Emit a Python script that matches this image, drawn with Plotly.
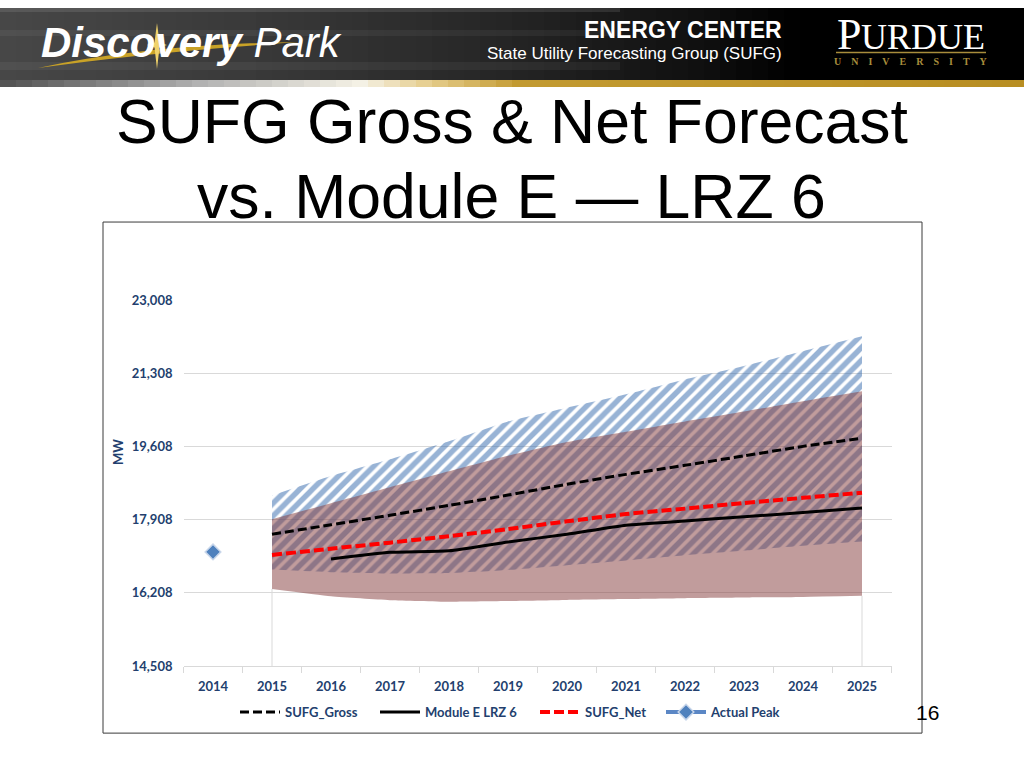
import plotly.graph_objects as go

# ---------------- data ----------------
years = [2014, 2015, 2016, 2017, 2018, 2019, 2020, 2021, 2022, 2023, 2024, 2025]
band_years = [2015, 2016, 2017, 2018, 2019, 2020, 2021, 2022, 2023, 2024, 2025]
gross_high = [18470, 18920, 19310, 19730, 20190, 20510, 20820, 21165, 21475, 21820, 22165]
gross_low = [16750, 16690, 16660, 16670, 16740, 16850, 16960, 17080, 17190, 17300, 17400]
net_high = [17920, 18290, 18660, 19030, 19390, 19710, 19950, 20190, 20420, 20660, 20890]
net_low = [16300, 16130, 16040, 16005, 16020, 16045, 16065, 16085, 16100, 16115, 16140]
sufg_gross = [17570, 17790, 18010, 18240, 18480, 18730, 18960, 19170, 19390, 19610, 19800]
sufg_net = [17090, 17235, 17375, 17525, 17690, 17870, 18040, 18165, 18295, 18415, 18535]
module_years = [2016, 2017, 2018, 2019, 2020, 2021, 2022, 2023, 2024, 2025]
module_e = [16995, 17150, 17185, 17390, 17570, 17780, 17880, 17975, 18075, 18180]
peak_years = [2014]
actual_peak = [17160]
y_min, y_max, y_step = 14508, 23008, 1700

W, H = 1024, 768
OY, SY = 8, 0.979     # observed vertical placement of the page in the photo
NAVY = "#233f6e"
GRID = "#d9d9d9"


def px(x):
    return x / W


def py(y):
    return 1 - ((y - OY) / SY) / H


fig = go.Figure()

# light edge lines under the net band at first/last forecast year
fig.add_trace(go.Scatter(
    x=[band_years[0], band_years[0], None, band_years[-1], band_years[-1]],
    y=[y_min, net_low[0], None, y_min, net_low[-1]],
    mode="lines", line=dict(color=GRID, width=1),
    showlegend=False, hoverinfo="skip"))

# gross range (hatched)
fig.add_trace(go.Scatter(
    x=band_years, y=gross_low, mode="lines",
    line=dict(width=0, shape="spline", smoothing=0.5),
    showlegend=False, hoverinfo="skip"))
fig.add_trace(go.Scatter(
    x=band_years, y=gross_high, mode="lines",
    line=dict(width=0, shape="spline", smoothing=0.5),
    fill="tonexty", fillcolor="rgba(0,0,0,0)",
    fillpattern=dict(shape="/", fgcolor="#3268ab", bgcolor="rgba(255,255,255,0)",
                     size=9, solidity=0.6),
    showlegend=False, hoverinfo="skip"))

# net range (translucent brown)
fig.add_trace(go.Scatter(
    x=band_years, y=net_low, mode="lines",
    line=dict(width=0, shape="spline", smoothing=0.5),
    showlegend=False, hoverinfo="skip"))
fig.add_trace(go.Scatter(
    x=band_years, y=net_high, mode="lines",
    line=dict(width=0, shape="spline", smoothing=0.5),
    fill="tonexty", fillcolor="rgba(132,58,58,0.5)",
    showlegend=False, hoverinfo="skip"))

# lines
fig.add_trace(go.Scatter(
    x=band_years, y=sufg_gross, mode="lines", name="SUFG_Gross", legend="legend",
    line=dict(color="black", width=3, dash="9px,4px", shape="spline", smoothing=0.5)))
fig.add_trace(go.Scatter(
    x=module_years, y=module_e, mode="lines", name="Module E LRZ 6", legend="legend2",
    line=dict(color="black", width=3, shape="spline", smoothing=0.5)))
fig.add_trace(go.Scatter(
    x=band_years, y=sufg_net, mode="lines", name="SUFG_Net", legend="legend3",
    line=dict(color="#ff0000", width=4, dash="10px,4px", shape="spline", smoothing=0.5)))
fig.add_trace(go.Scatter(
    x=peak_years, y=actual_peak, mode="lines+markers", name="Actual Peak", legend="legend4",
    line=dict(color="#5b87c5", width=4),
    marker=dict(symbol="diamond", size=12, color="#4f81bd",
                line=dict(color="#c8d6ea", width=1.5))))

shapes = []

# header background gradient
hdr_stops = [(0, (72, 72, 72)), (250, (58, 58, 58)), (500, (38, 38, 38)),
             (700, (16, 16, 16)), (800, (0, 0, 0)), (1024, (0, 0, 0))]
bar_stops = [(0, (80, 80, 80)), (200, (178, 178, 178)), (360, (245, 242, 230)),
             (430, (230, 205, 140)), (520, (195, 155, 50)), (1024, (184, 142, 34))]


def interp(stops, x):
    for (x0, c0), (x1, c1) in zip(stops[:-1], stops[1:]):
        if x0 <= x <= x1:
            t = (x - x0) / (x1 - x0) if x1 > x0 else 0
            return "rgb(%d,%d,%d)" % tuple(int(a + (b - a) * t) for a, b in zip(c0, c1))
    return "rgb(%d,%d,%d)" % stops[-1][1]


N = 64
for i in range(N):
    x0 = i * W / N
    x1 = (i + 1) * W / N + 0.6
    xm = (x0 + x1) / 2
    shapes.append(dict(type="rect", xref="paper", yref="paper",
                       x0=px(x0), x1=px(x1), y0=py(80), y1=1,
                       fillcolor=interp(hdr_stops, xm), line=dict(width=0), layer="below"))
    shapes.append(dict(type="rect", xref="paper", yref="paper",
                       x0=px(x0), x1=px(x1), y0=py(87), y1=py(80),
                       fillcolor=interp(bar_stops, xm), line=dict(width=0), layer="below"))
# subtle streaks in header
for (ya, yb, op) in [(8, 12, 0.10), (30, 36, 0.05), (62, 70, 0.05)]:
    shapes.append(dict(type="rect", xref="paper", yref="paper",
                       x0=0, x1=px(620), y0=py(yb), y1=py(ya),
                       fillcolor="rgba(255,255,255,%.2f)" % op, line=dict(width=0), layer="below"))


def P(x, y):
    return "%.5f,%.5f" % (px(x), py(y))


# swoosh + star of logo
swoosh = ("M " + P(38, 68) + " Q " + P(150, 44) + " " + P(300, 42) +
          " Q " + P(150, 52) + " " + P(38, 68) + " Z")
shapes.append(dict(type="path", xref="paper", yref="paper", path=swoosh,
                   fillcolor="#c9a227", line=dict(width=0), layer="below"))
sx, sy = 157, 45
star = ("M " + P(sx, sy - 22) + " L " + P(sx + 2.5, sy - 2.5) + " L " + P(sx + 10, sy) +
        " L " + P(sx + 2.5, sy + 2.5) + " L " + P(sx, sy + 24) + " L " + P(sx - 2.5, sy + 2.5) +
        " L " + P(sx - 10, sy) + " L " + P(sx - 2.5, sy - 2.5) + " Z")
shapes.append(dict(type="path", xref="paper", yref="paper", path=star,
                   fillcolor="#f0d26a", line=dict(width=0), layer="above"))

# Purdue gold rule
shapes.append(dict(type="line", xref="paper", yref="paper",
                   x0=px(836), x1=px(986), y0=py(52.5), y1=py(52.5),
                   line=dict(color="#a88d3c", width=1.5), layer="below"))

# chart box
shapes.append(dict(type="rect", xref="paper", yref="paper",
                   x0=px(103), x1=px(922), y0=py(733), y1=py(222),
                   fillcolor="white", line=dict(color="#3a3a3a", width=1), layer="below"))

annotations = []


def ann(text, x, y, size, color="black", family="Liberation Sans", xanchor="center",
        weight="normal", angle=0):
    annotations.append(dict(text=text, x=px(x), y=py(y), xref="paper", yref="paper",
                            xanchor=xanchor, yanchor="middle", showarrow=False,
                            textangle=angle, borderpad=0,
                            font=dict(size=size, color=color, family=family,
                                      weight=weight)))


# header texts
ann("<b><i>Discovery</i></b><i> Park</i>", 40, 42, 42, color="white", xanchor="left")
ann("ENERGY CENTER", 783, 30, 23, color="white", xanchor="right", weight="bold")
ann("State Utility Forecasting Group (SUFG)", 783, 53, 17, color="white", xanchor="right")
ann("P", 836, 34, 44, color="white", family="Liberation Serif", xanchor="left")
ann("URDUE", 860, 37, 36, color="white", family="Liberation Serif", xanchor="left")
ann("\u2003".join("UNIVERSITY"), 911, 61, 10, color="#a88d3c", family="Liberation Serif",
    weight="bold")

# slide title
ann("SUFG Gross &amp; Net Forecast", 512, 121, 62.5)
ann("vs. Module E — LRZ 6", 511, 196, 62.5)

# axis title and page number
ann("MW", 118, 452, 13, color=NAVY, family="Lato", weight="bold", angle=-90)
ann("16", 927, 712, 21)

LEGEND_FONT = dict(family="Lato", size=13, color=NAVY, weight="bold")
legend_text_starts = [285, 425, 585, 711]
legends = {}
for i, xs in enumerate(legend_text_starts):
    key = "legend" if i == 0 else "legend%d" % (i + 1)
    legends[key] = dict(orientation="h", x=px(xs - 50), y=py(712), xanchor="left",
                        yanchor="middle", bgcolor="rgba(0,0,0,0)", borderwidth=0,
                        itemwidth=40, font=LEGEND_FONT)

fig.update_layout(
    width=W, height=H,
    margin=dict(l=0, r=0, t=0, b=0, pad=0),
    paper_bgcolor="white", plot_bgcolor="rgba(0,0,0,0)",
    shapes=shapes, annotations=annotations,
    showlegend=True,
    xaxis=dict(domain=[px(183.5), px(891.5)], range=[2013.5, 2025.5],
               tickmode="array", tickvals=years, ticktext=[str(y) for y in years],
               ticks="", showgrid=False, zeroline=False,
               showline=True, linecolor=GRID, linewidth=1,
               tickfont=dict(family="Lato", size=13, color=NAVY, weight="bold"),
               ticklabelstandoff=8,
               minor=dict(ticks="outside", ticklen=6, tickcolor=GRID, tickwidth=1,
                          tickmode="array",
                          tickvals=[y - 0.5 for y in years] + [years[-1] + 0.5],
                          showgrid=False)),
    yaxis=dict(domain=[py(666), py(300)], range=[y_min, y_max],
               tickmode="linear", tick0=y_min, dtick=y_step, tickformat=",d",
               showgrid=True, gridcolor=GRID, gridwidth=1,
               zeroline=False, showline=False, ticks="",
               tickfont=dict(family="Lato", size=13, color=NAVY, weight="bold"),
               ticklabelstandoff=10),
    **legends,
)

fig.write_html(
    "out.html",
    config={"displayModeBar": False},
    post_script=("var gd=document.getElementById('{plot_id}');"
                 "gd.style.position='absolute';gd.style.left='0px';gd.style.top='0px';"
                 "document.body.style.margin='0px';"
                 "document.body.style.overflow='hidden';"))
